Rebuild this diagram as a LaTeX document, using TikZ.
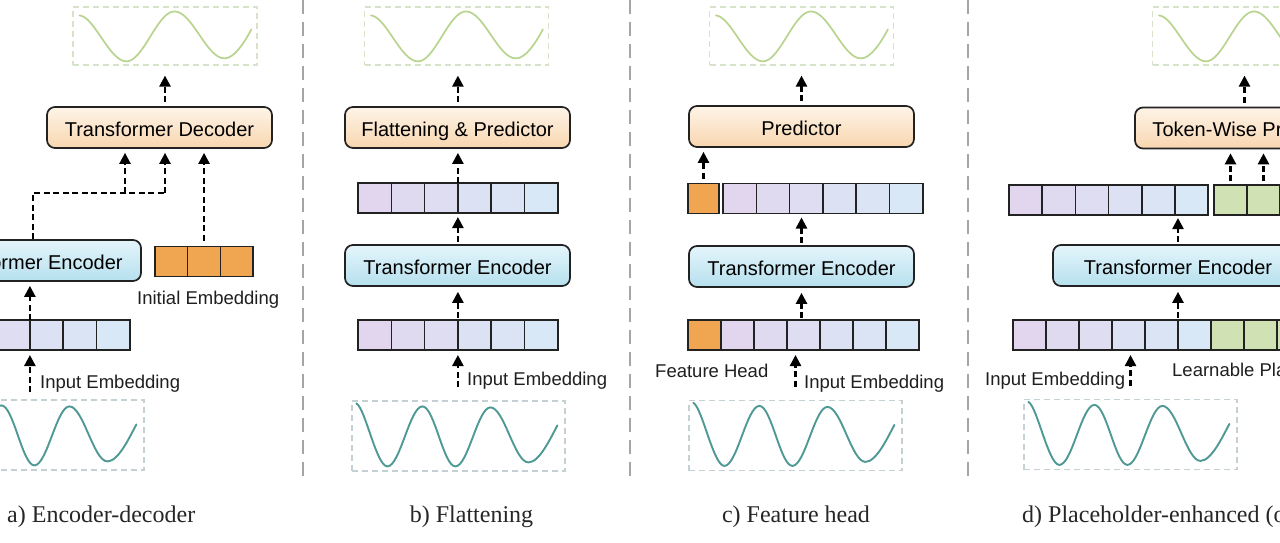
\documentclass[tikz,border=0pt]{standalone}
\usepackage{fontspec}
\setmainfont{Liberation Serif}
\setsansfont{Liberation Sans}
\usetikzlibrary{arrows.meta}
\definecolor{predTop}{HTML}{FEF4E8}
\definecolor{predBot}{HTML}{F8D6AF}
\definecolor{encTop}{HTML}{E4F5FB}
\definecolor{encBot}{HTML}{B6E0EE}
\definecolor{cellP}{HTML}{E2D6EF}
\definecolor{cellB}{HTML}{D8E8F6}
\definecolor{orangeC}{HTML}{F0A650}
\definecolor{greenC}{HTML}{D0E1B3}
\definecolor{gwavec}{HTML}{B8D48E}
\definecolor{twavec}{HTML}{4E9994}
\definecolor{topdash}{HTML}{D6E3C8}
\definecolor{botdash}{HTML}{C5D0D4}
\definecolor{boxline}{HTML}{222222}
\definecolor{divc}{HTML}{A5A5A5}
\newcommand\cellrow[5]{%
  \foreach \i in {1,...,#4}{%
    \pgfmathtruncatemacro\pc{100*(\i-1)/(#4-1)}%
    \node[cellnode, minimum width=#5pt, fill=cellB!\pc!cellP] (#1\i) at ({#2+(\i-0.5)*#5},#3) {};
  }}
\newcommand\fillrow[6]{%
  \foreach \i in {1,...,#4}{%
    \node[cellnode, minimum width=#5pt, fill=#6] (#1\i) at ({#2+(\i-0.5)*#5},#3) {};
  }}
\newcommand\gwave[1]{\draw[gwavec, line width=1.7pt, line cap=round, shift={(#1.north west)}]
  (7,9) .. controls (22,10) and (37,55) .. (54,55)
  .. controls (71,55) and (85,5) .. (102,5)
  .. controls (120,5) and (134,52) .. (152,52)
  .. controls (162,52) and (172,36) .. (179,23);}
\newcommand\twave[1]{\draw[twavec, line width=1.9pt, line cap=round, shift={(#1.north west)}]
  (5,3) .. controls (14,8) and (25,66) .. (36,66)
  .. controls (48.6,66) and (58.4,6) .. (71,6)
  .. controls (83,6) and (92,66) .. (104,66)
  .. controls (116.6,66) and (126.4,7) .. (139,7)
  .. controls (152.8,7) and (163.2,62) .. (177,62)
  .. controls (188,62) and (199,38) .. (206,25);}
\begin{document}
\begin{tikzpicture}[x=1pt,y=-1pt,
  box/.style={draw=boxline, line width=1.7pt, rounded corners=8pt, minimum height=41pt,
    minimum width=225pt, inner sep=0pt, text height=17pt, text depth=0pt, text=black,
    font=\sffamily\fontsize{20}{24}\selectfont},
  predbox/.style={box, top color=predTop, bottom color=predBot},
  encbox/.style={box, top color=encTop, bottom color=encBot},
  cellnode/.style={draw=boxline, line width=1.5pt, minimum height=30pt, inner sep=0pt, outer sep=0pt},
  wtop/.style={draw=topdash, line width=1.2pt, dash pattern=on 6pt off 4pt,
    minimum width=184pt, minimum height=58pt, inner sep=0pt},
  wbot/.style={draw=botdash, line width=1.2pt, dash pattern=on 6pt off 4pt,
    minimum width=213pt, minimum height=70pt, inner sep=0pt},
  lbl/.style={font=\sffamily\fontsize{18.5}{22}\selectfont, text=black!88, inner sep=0pt, anchor=base west},
  captext/.style={font=\rmfamily\fontsize{24}{28}\selectfont, text=black!85, inner sep=0pt, anchor=base},
  dl/.style={draw=black, line width=2.4pt, dash pattern=on 6pt off 3.5pt},
  arr/.style={dl, -{Triangle[length=11pt,width=11pt]}},
  divider/.style={draw=divc, line width=1.8pt, dash pattern=on 14pt off 8pt}]
\useasboundingbox (0,0) rectangle (1280,543);
\clip (0,0) rectangle (1280,543);
\fill[white] (0,0) rectangle (1280,543);

% dividers
\coordinate (v1t) at (303,0); \coordinate (v1b) at (303,481);
\coordinate (v2t) at (630,0); \coordinate (v2b) at (630,481);
\coordinate (v3t) at (968,0); \coordinate (v3b) at (968,481);
\draw[divider] (v1t) -- (v1b);
\draw[divider] (v2t) -- (v2b);
\draw[divider] (v3t) -- (v3b);

% ---------- panel a ----------
\node[wtop] (tA) at (165,36) {}; \gwave{tA}
\node[predbox] (decA) at (159.5,127.5) {Transformer Decoder};
\node[encbox] (encA) at (28.5,260.5) {Transformer Encoder};
\fillrow{iA}{155}{261.5}{3}{32.7}{orangeC}
\node[lbl] (iniA) at (137,304) {Initial Embedding};
\cellrow{aC}{-70}{335}{6}{33.3}
\node[lbl] (inA) at (40,388) {Input Embedding};
\node[wbot] (bA) at (37.5,435) {}; \twave{bA}
\node[captext, anchor=base west] (capA) at (7,522) {a) Encoder-decoder};

\draw[arr, shorten <=4pt, shorten >=10pt] (decA.north -| tA.south) -- (tA.south);
\coordinate (jA1) at (33,193);
\coordinate (jA2) at (165,193);
\coordinate (jA3) at (125,193);
\draw[dl] (encA.north -| jA1) -- (jA1) -- (jA2);
\draw[arr, shorten >=4pt] (jA3) -- (jA3 |- decA.south);
\draw[arr, shorten >=4pt] (jA2) -- (jA2 |- decA.south);
\draw[arr, shorten <=6pt, shorten >=4pt] (iA2.north) -- (iA2.north |- decA.south);
\draw[arr, shorten >=4pt] (aC3.north east) -- (aC3.north east |- encA.south);
\draw[arr, shorten <=7pt, shorten >=5pt] (bA.north -| aC3.south east) -- (aC3.south east);

% ---------- panel b ----------
\node[wtop] (tB) at (456.5,36) {}; \gwave{tB}
\node[predbox] (predB) at (457.5,127.5) {Flattening \& Predictor};
\cellrow{bT}{358}{198}{6}{33.3}
\node[encbox] (encB) at (457.5,265.5) {Transformer Encoder};
\cellrow{bI}{358}{335}{6}{33.3}
\node[lbl] (inB) at (467,385) {Input Embedding};
\node[wbot] (bB) at (458.5,436) {}; \twave{bB}
\node[captext] (capB) at (471.5,522) {b) Flattening};

\draw[arr, shorten <=4pt, shorten >=10pt] (predB.north -| bT3.north east) -- (tB.south -| bT3.north east);
\draw[arr, shorten >=4pt] (bT3.north east) -- (bT3.north east |- predB.south);
\draw[arr, shorten <=2pt, shorten >=4pt] (encB.north -| bT3.south east) -- (bT3.south east);
\draw[arr, shorten <=2pt, shorten >=5pt] (bI3.north east) -- (bI3.north east |- encB.south);
\draw[arr, shorten <=13pt, shorten >=5pt] (bB.north -| bI3.south east) -- (bI3.south east);

% ---------- panel c ----------
\node[wtop] (tC) at (801.5,36) {}; \gwave{tC}
\node[predbox] (predC) at (801.5,126.5) {Predictor};
\node[cellnode, fill=orangeC, minimum width=31pt] (cH) at (703.5,198.5) {};
\cellrow{cT}{723}{198.5}{6}{33.3}
\node[encbox] (encC) at (801.5,266.5) {Transformer Encoder};
\node[cellnode, fill=orangeC, minimum width=33pt] (cI0) at (704.5,335) {};
\cellrow{cI}{721}{335}{6}{33}
\node[lbl] (fhC) at (655,377) {Feature Head};
\node[lbl] (inC) at (804,388) {Input Embedding};
\node[wbot] (bC) at (795.5,435.5) {}; \twave{bC}
\node[captext] (capC) at (796,522) {c) Feature head};

\draw[arr, shorten <=4pt, shorten >=10pt] (predC.north) -- (tC.south -| predC.north);
\draw[arr, shorten <=5pt, shorten >=4pt] (cH.north) -- (cH.north |- predC.south);
\draw[arr, shorten <=2pt, shorten >=4pt] (encC.north) -- (encC.north |- cT3.south);
\draw[arr, shorten <=2pt, shorten >=5pt] (cI3.north -| encC.north) -- (encC.south);
\draw[arr, shorten <=13pt, shorten >=5pt] (bC.north) -- (bC.north |- cI3.south);

% ---------- panel d ----------
\node[wtop] (tD) at (1244.5,36) {}; \gwave{tD}
\node[predbox] (predD) at (1247.5,128) {Token-Wise Predictor};
\cellrow{dT}{1009}{200}{6}{33.2}
\fillrow{dG}{1214}{200}{4}{33}{greenC}
\node[encbox, minimum width=250pt] (encD) at (1178,265.5) {Transformer Encoder};
\cellrow{dI}{1013}{335}{6}{33}
\fillrow{dJ}{1211}{335}{4}{33}{greenC}
\node[lbl] (inD) at (985,385) {Input Embedding};
\node[lbl] (lpD) at (1172,376) {Learnable Placeholders};
\node[wbot] (bD) at (1130.5,434.5) {}; \twave{bD}
\node[captext, anchor=base west] (capD) at (1022,522) {d) Placeholder-enhanced (ours)};

\draw[arr, shorten <=4pt, shorten >=10pt] (predD.north -| tD.south) -- (tD.south);
\foreach \k in {1,...,4}{
  \draw[arr, shorten <=4pt, shorten >=4pt] (dG\k.north) -- (dG\k.north |- predD.south);
}
\draw[arr, shorten <=2pt, shorten >=3pt] (encD.north) -- (encD.north |- dT5.south);
\draw[arr, shorten <=2pt, shorten >=5pt] (dI5.north east) -- (dI5.north east |- encD.south);
\draw[arr, shorten <=13pt, shorten >=5pt] (bD.north) -- (bD.north |- dI4.south);
\end{tikzpicture}
\end{document}
